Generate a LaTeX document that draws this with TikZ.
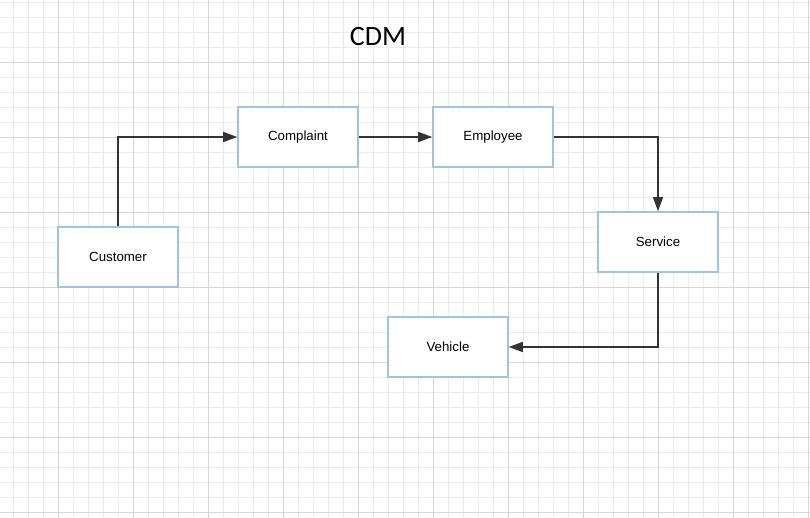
\documentclass[tikz,border=0pt]{standalone}
\usepackage{fontspec}
\setmainfont{Liberation Sans}
\newfontfamily\titlefont{Carlito}
\usetikzlibrary{arrows.meta}
\definecolor{boxblue}{RGB}{157,195,230}
\definecolor{linegray}{RGB}{51,51,51}
\definecolor{gridminor}{RGB}{235,235,235}
\definecolor{gridmajor}{RGB}{214,214,214}
\tikzset{
  entity/.style={draw=boxblue,line width=1.6pt,fill=white,minimum width=120pt,minimum height=60pt,
    inner sep=0pt,font=\fontsize{13.3}{15}\selectfont},
  link/.style={draw=linegray,line width=1.5pt,-{Triangle[length=14pt,width=10pt]}}
}
\begin{document}
\begin{tikzpicture}[x=1pt,y=-1pt]
                \useasboundingbox (0,0) rectangle (810,518);
                \fill[white] (0,0) rectangle (810,518);

                \foreach \k in {0,...,53} \draw[gridminor,line width=1pt] (13.5+15*\k,0) -- (13.5+15*\k,518);
                \foreach \k in {0,...,34} \draw[gridminor,line width=1pt] (0,2.5+15*\k) -- (810,2.5+15*\k);
                \foreach \k in {0,...,10} \draw[gridmajor,line width=1pt] (58.5+75*\k,0) -- (58.5+75*\k,518);
                \foreach \k in {0,...,6} \draw[gridmajor,line width=1pt] (0,62.5+75*\k) -- (810,62.5+75*\k);

                \node (title) at (378,37) {\titlefont\fontsize{28}{32}\selectfont CDM};

                \node[entity] (customer) at (118,257) {Customer};
                \node[entity] (complaint) at (298,137) {Complaint};
                \node[entity] (employee) at (493,137) {Employee};
                \node[entity] (service) at (658,242) {Service};
                \node[entity] (vehicle) at (448,347) {Vehicle};

                \draw[link] (customer.north) |- (complaint.west);
                \draw[link] (complaint.east) -- (employee.west);
                \draw[link] (employee.east) -| (service.north);
                \draw[link] (service.south) |- (vehicle.east);
            \end{tikzpicture}
\end{document}
